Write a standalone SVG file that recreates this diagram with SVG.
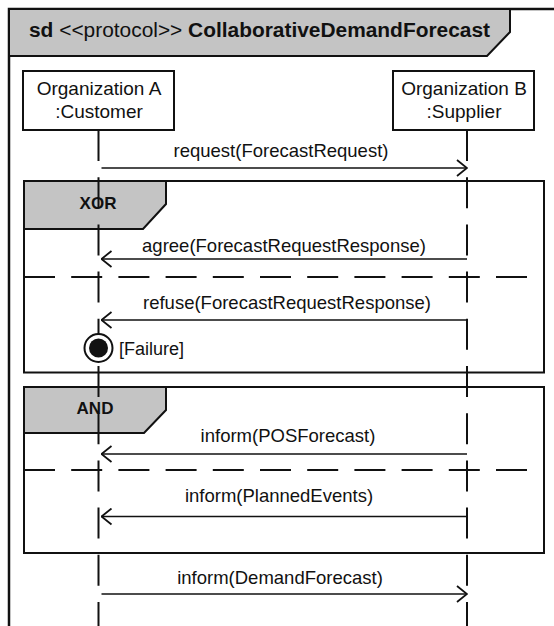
<svg xmlns="http://www.w3.org/2000/svg" width="554" height="626" viewBox="0 0 554 626">
<style>
text{font-family:"Liberation Sans",Arial,sans-serif;fill:#111}
.box{fill:#fff;stroke:#111;stroke-width:2}
.tab{fill:#c4c4c4;stroke:#111;stroke-width:2}
.frag{fill:none;stroke:#111;stroke-width:2}
.sep{stroke:#111;stroke-width:2;stroke-dasharray:31 16.2}
.life{stroke:#111;stroke-width:2;stroke-dasharray:31 16.2}
.msg{stroke:#111;stroke-width:1.7;fill:none;marker-end:url(#open)}
.lbl{font-size:18.5px;text-anchor:middle}
.nm{font-size:19px;text-anchor:middle}
.op{font-size:17px;font-weight:bold;text-anchor:middle}
</style>
<defs>
<marker id="open" viewBox="0 0 12 18" refX="11" refY="9" markerWidth="12" markerHeight="18" markerUnits="userSpaceOnUse" orient="auto">
<path d="M1,1 L11,9 L1,17" fill="none" stroke="#111" stroke-width="1.8"/>
</marker>
</defs>
<rect x="0" y="0" width="554" height="626" fill="#fff"/>
<g id="frame">
<path d="M9,626 V9 H554" fill="none" stroke="#111" stroke-width="2.5"/>
<polygon points="9,9 510,9 510,32 487,56 9,56" class="tab"/>
<text x="29" y="37" font-size="20" textLength="461" lengthAdjust="spacingAndGlyphs"><tspan font-weight="bold">sd</tspan> &lt;&lt;protocol&gt;&gt; <tspan font-weight="bold">CollaborativeDemandForecast</tspan></text>
</g>
<g id="xor">
<rect x="24" y="181" width="520" height="191.5" class="frag"/>
<polygon points="24,181 166,181 166,204 143,229 24,229" class="tab"/>
<line x1="24" y1="277" x2="544" y2="277" class="sep"/>
</g>
<g id="and">
<rect x="24" y="387" width="520" height="166" class="frag"/>
<polygon points="24,387 166,387 166,410 144,433 24,433" class="tab"/>
<line x1="24" y1="470" x2="544" y2="470" class="sep"/>
</g>
<g id="orgA">
<rect x="23" y="71" width="151" height="59" class="box"/>
<text x="99" y="95" class="nm">Organization A</text>
<text x="99" y="118" class="nm">:Customer</text>
</g>
<g id="orgB">
<rect x="393" y="71" width="141" height="59" class="box"/>
<text x="464" y="95" class="nm">Organization B</text>
<text x="464" y="118" class="nm">:Supplier</text>
</g>
<g id="lifelines">
<line x1="98.5" y1="130" x2="98.5" y2="626" class="life"/>
<line x1="467" y1="130" x2="467" y2="626" class="life"/>
</g>
<g id="labels">
<text x="98" y="209" class="op">XOR</text>
<text x="95" y="414" class="op">AND</text>
</g>
<g id="final">
<circle cx="98.5" cy="348" r="14" fill="#fff" stroke="#111" stroke-width="2"/>
<circle cx="98.5" cy="348" r="9.5" fill="#111"/>
<text x="119" y="355" font-size="18">[Failure]</text>
</g>
<g id="connectors">
<line x1="101.5" y1="168" x2="467" y2="168" class="msg"/>
<text x="281" y="157" class="lbl">request(ForecastRequest)</text>
<line x1="467" y1="259" x2="101.5" y2="259" class="msg"/>
<text x="284" y="252" class="lbl">agree(ForecastRequestResponse)</text>
<line x1="467" y1="320" x2="101.5" y2="320" class="msg"/>
<text x="287" y="309" class="lbl">refuse(ForecastRequestResponse)</text>
<line x1="467" y1="454" x2="101.5" y2="454" class="msg"/>
<text x="288" y="442" class="lbl">inform(POSForecast)</text>
<line x1="467" y1="516.5" x2="101.5" y2="516.5" class="msg"/>
<text x="279" y="502" class="lbl">inform(PlannedEvents)</text>
<line x1="101.5" y1="594" x2="467" y2="594" class="msg"/>
<text x="280" y="584" class="lbl">inform(DemandForecast)</text>
</g>
</svg>
